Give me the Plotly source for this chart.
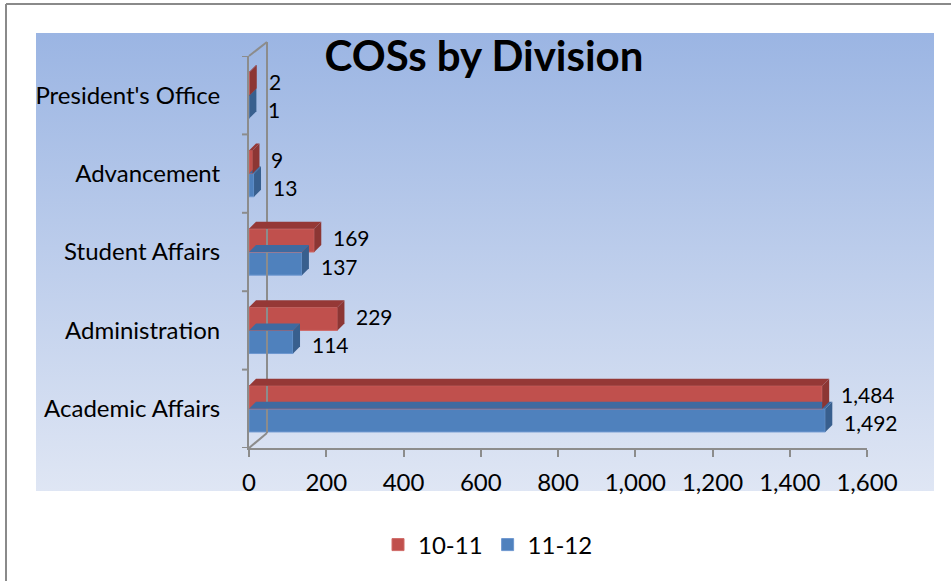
import base64
import plotly.graph_objects as go

# chart data
divisions = ["Academic Affairs", "Administration", "Student Affairs", "Advancement", "President's Office"]
cos_10_11 = [1484, 229, 169, 9, 2]
cos_11_12 = [1492, 114, 137, 13, 1]
x_ticks = [0, 200, 400, 600, 800, 1000, 1200, 1400, 1600]

FONT = "Lato"
W, H = 951, 581
# plot area in pixels
L, R, T, B = 249, 867, 56, 448
BARGAP = 0.41
DEPTH = 7  # fake 3d depth of the bars, px


def px_x(p):
    return (p - L) / (R - L)


def px_y(p):
    return (B - p) / (B - T)


# vertical gradient for the chart background, as an svg data uri
svg = ('<svg xmlns="http://www.w3.org/2000/svg" width="100" height="100" preserveAspectRatio="none">'
       '<defs><linearGradient id="g" x1="0" y1="0" x2="0" y2="1">'
       '<stop offset="0" stop-color="#9bb5e3"/><stop offset="1" stop-color="#dfe6f4"/>'
       '</linearGradient></defs><rect width="100" height="100" fill="url(#g)"/></svg>')
bg_src = "data:image/svg+xml;base64," + base64.b64encode(svg.encode()).decode()

fig = go.Figure()
fig.add_trace(go.Bar(
    y=divisions, x=cos_11_12, name="11-12", orientation="h",
    marker=dict(color="#4f81bd", line=dict(color="#6d97cf", width=1)),
))
fig.add_trace(go.Bar(
    y=divisions, x=cos_10_11, name="10-11", orientation="h",
    marker=dict(color="#c0504d", line=dict(color="#d06a67", width=1)),
))

gray = "#8c8c8c"
shapes = [
    # outer chart frame (top and left edges visible)
    dict(type="line", xref="paper", yref="paper", x0=px_x(6), x1=px_x(951), y0=px_y(4), y1=px_y(4),
         line=dict(color="#8a8a8a", width=2)),
    dict(type="line", xref="paper", yref="paper", x0=px_x(6), x1=px_x(6), y0=px_y(4), y1=px_y(581),
         line=dict(color="#8a8a8a", width=2)),
    # 3d back wall edge
    dict(type="line", xref="paper", yref="paper", x0=px_x(267), x1=px_x(267), y0=px_y(433), y1=px_y(42),
         line=dict(color=gray, width=2)),
    dict(type="line", xref="paper", yref="paper", x0=px_x(249), x1=px_x(267), y0=px_y(56), y1=px_y(42),
         line=dict(color=gray, width=2)),
    dict(type="line", xref="paper", yref="paper", x0=px_x(249), x1=px_x(267), y0=px_y(448), y1=px_y(433),
         line=dict(color=gray, width=2)),
]

# category tick marks on the y axis sit between categories
for i in range(len(divisions) + 1):
    shapes.append(dict(type="line", xref="paper", yref="y", x0=px_x(242), x1=0,
                       y0=i - 0.5, y1=i - 0.5, line=dict(color=gray, width=2)))

# side and top faces give the bars a bit of depth like the original 3d chart,
# value labels sit just right of the side face
bar_w = (1 - BARGAP) / 2
bar_px = bar_w * (B - T) / len(divisions)
dx_data = DEPTH * (x_ticks[-1] - x_ticks[0]) / (R - L)
annotations = []
for vals, base_off, side, top, nudge in [(cos_11_12, -bar_w, "#385f8e", "#3f6aa0", -2.5),
                                         (cos_10_11, 0.0, "#8c3634", "#953836", 2.5)]:
    for i, v in enumerate(vals):
        shapes.append(dict(
            type="path", xref="x", yref="y", xsizemode="pixel", xanchor=v,
            ysizemode="pixel", yanchor=i + base_off,
            path=f"M0,0 L{DEPTH},{DEPTH} L{DEPTH},{bar_px + DEPTH} L0,{bar_px} Z",
            fillcolor=side, line=dict(width=0), layer="above"))
        shapes.append(dict(
            type="path", xref="x", yref="y", ysizemode="pixel", yanchor=i + base_off,
            path=f"M0,{bar_px} L{v},{bar_px} L{v + dx_data},{bar_px + DEPTH} L{dx_data},{bar_px + DEPTH} Z",
            fillcolor=top, line=dict(width=0), layer="above"))
        annotations.append(dict(
            x=v, y=i + base_off + bar_w / 2, xref="x", yref="y", text=f"{v:,}",
            showarrow=False, xanchor="left", yanchor="middle", xshift=DEPTH + 11, yshift=nudge,
            font=dict(size=21, color="black"), borderpad=0))

fig.update_layout(
    width=W, height=H,
    margin=dict(l=L, r=W - R, t=T, b=H - B, pad=0),
    paper_bgcolor="white", plot_bgcolor="rgba(0,0,0,0)",
    font=dict(family=FONT, size=24, color="black"),
    barmode="group", bargap=BARGAP, bargroupgap=0,
    title=dict(text="<b>COSs by Division</b>", font=dict(family=FONT, size=42, color="black"),
               xref="container", yref="container", x=484 / W, y=1 - 56 / H,
               xanchor="center", yanchor="middle"),
    xaxis=dict(range=[0, 1600], tickvals=x_ticks, tickformat=",d", showgrid=False, zeroline=False,
               showline=True, linecolor=gray, linewidth=2, ticks="outside", ticklen=7,
               tickwidth=2, tickcolor=gray, tickfont=dict(size=24), ticklabelstandoff=5),
    yaxis=dict(range=[-0.5, 4.5], showgrid=False, zeroline=False, showline=True,
               linecolor=gray, linewidth=2, ticks="", tickfont=dict(size=24),
               ticklabelstandoff=22),
    legend=dict(orientation="h", xref="container", yref="container", x=488 / W, y=1 - 545 / H,
                xanchor="center", yanchor="middle", traceorder="reversed",
                font=dict(size=24), itemwidth=30, bgcolor="rgba(0,0,0,0)"),
    images=[dict(source=bg_src, xref="paper", yref="paper", x=px_x(36), y=px_y(33),
                 sizex=px_x(934) - px_x(36), sizey=px_y(33) - px_y(491),
                 sizing="stretch", layer="below", xanchor="left", yanchor="top")],
    shapes=shapes,
    annotations=annotations,
)

# drop the default page margin so the figure sits at the window corner
fig.write_html("out.html", config={"displayModeBar": False},
               post_script="document.body.style.margin='0';")
